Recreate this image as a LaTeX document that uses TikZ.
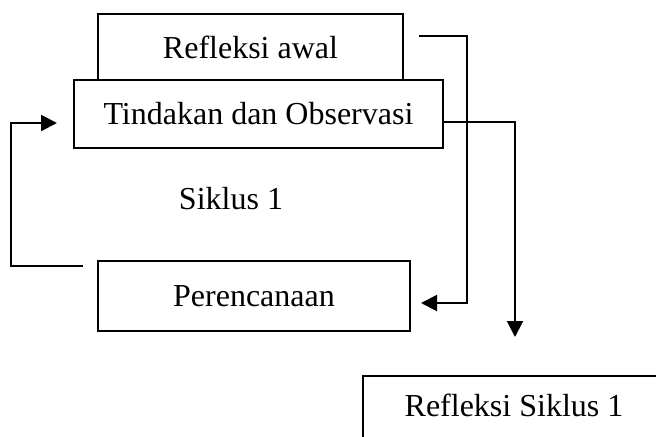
\documentclass[tikz,border=0pt]{standalone}
\usepackage{fontspec}
\setmainfont{Liberation Serif}
\usetikzlibrary{arrows.meta,calc}
\begin{document}
\begin{tikzpicture}[x=0.375pt,y=-0.375pt,
  box/.style={draw,line width=0.75pt,inner sep=0pt,font=\fontsize{12}{14}\selectfont},
  lbl/.style={inner sep=0pt,font=\fontsize{12}{14}\selectfont},
  conn/.style={line width=0.75pt},
  arr/.style={line width=0.75pt,-{Triangle[length=6pt,width=6pt]}}]
\useasboundingbox (0,0) rectangle (656,436);
\clip (0,0) rectangle (656,436);
\node[box,minimum width=305*0.375pt,minimum height=66*0.375pt] (ra) at (250.5,47) {Refleksi awal};
\node[box,minimum width=369*0.375pt,minimum height=68*0.375pt,fill=white] (tin) at (258.5,114) {Tindakan dan Observasi};
\node[lbl] (sik) at (231,199) {Siklus 1};
\node[box,minimum width=312*0.375pt,minimum height=70*0.375pt] (per) at (254,296) {Perencanaan};
\node[box,minimum width=320*0.375pt,minimum height=90*0.375pt,anchor=north west] (rsbox) at (362,375) {};
\node[lbl] (rs) at (514,405) {Refleksi Siklus 1};
\coordinate (c1) at (419,36);
\coordinate (c2) at (83,266);
\draw[arr] (c1) -- (467,36) -- (467,303) -- ($(per.east)+(10,7)$);
\draw[arr] ($(tin.east)+(0,8)$) -- (515,122) -- (515,337);
\draw[arr] (c2) -- (11,266) -- (11,123) -- ($(tin.west)+(-16,9)$);
\end{tikzpicture}
\end{document}
